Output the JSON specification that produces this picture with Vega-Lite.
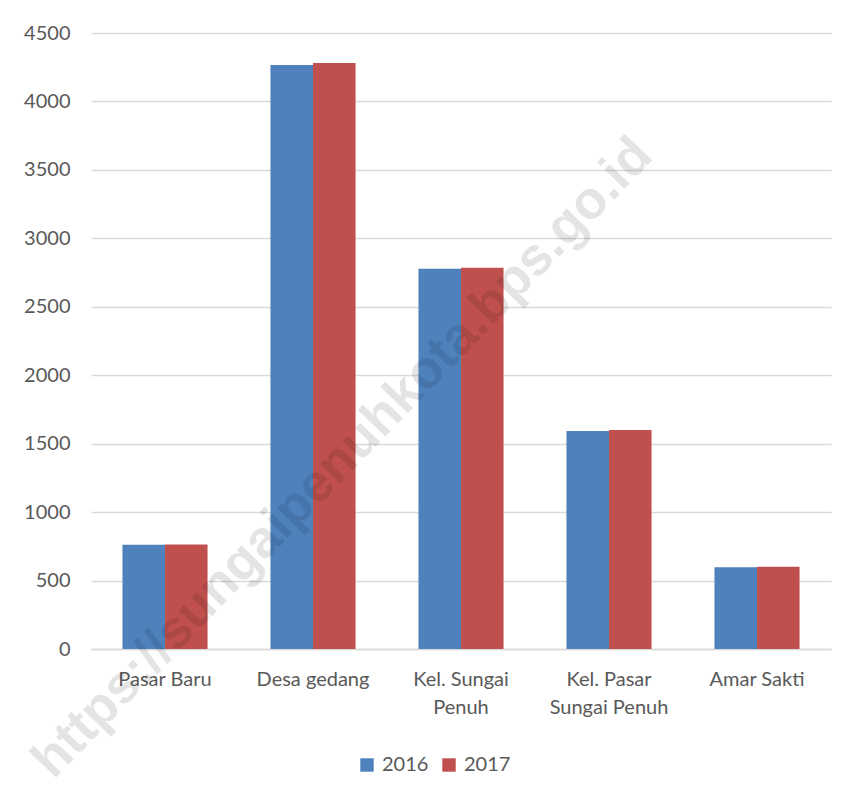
{
  "$schema": "https://vega.github.io/schema/vega-lite/v6.json",
  "width": 740,
  "height": 616,
  "autosize": {"type": "none"},
  "padding": {"left": 91, "top": 33, "right": 23, "bottom": 150},
  "background": "white",
  "config": {
    "view": {"stroke": null},
    "font": "Lato",
    "axis": {"labelColor": "#595959", "labelFont": "Lato", "labelFontSize": 20},
    "legend": {"labelColor": "#595959", "labelFont": "Lato", "labelFontSize": 20}
  },
  "layer": [
    {
      "data": {
        "values": [
          {"desa": "Pasar Baru", "tahun": "2016", "nilai": 762},
          {"desa": "Pasar Baru", "tahun": "2017", "nilai": 764},
          {"desa": "Desa gedang", "tahun": "2016", "nilai": 4266},
          {"desa": "Desa gedang", "tahun": "2017", "nilai": 4281},
          {"desa": "Kel. Sungai Penuh", "tahun": "2016", "nilai": 2777},
          {"desa": "Kel. Sungai Penuh", "tahun": "2017", "nilai": 2786},
          {"desa": "Kel. Pasar Sungai Penuh", "tahun": "2016", "nilai": 1592},
          {"desa": "Kel. Pasar Sungai Penuh", "tahun": "2017", "nilai": 1600},
          {"desa": "Amar Sakti", "tahun": "2016", "nilai": 597},
          {"desa": "Amar Sakti", "tahun": "2017", "nilai": 601}
        ]
      },
      "mark": {"type": "bar"},
      "encoding": {
        "x": {
          "field": "desa", "type": "nominal",
          "sort": ["Pasar Baru", "Desa gedang", "Kel. Sungai Penuh", "Kel. Pasar Sungai Penuh", "Amar Sakti"],
          "scale": {"paddingInner": 0.425, "paddingOuter": 0.2125},
          "axis": {
            "title": null, "labelAngle": 0, "ticks": false, "domain": true,
            "domainColor": "#d9d9d9", "domainWidth": 1.5, "labelPadding": 20,
            "labelLineHeight": 28,
            "labelExpr": "datum.label == 'Kel. Sungai Penuh' ? ['Kel. Sungai', 'Penuh'] : datum.label == 'Kel. Pasar Sungai Penuh' ? ['Kel. Pasar', 'Sungai Penuh'] : datum.label"
          }
        },
        "xOffset": {"field": "tahun", "type": "nominal"},
        "y": {
          "field": "nilai", "type": "quantitative",
          "scale": {"domain": [0, 4500], "nice": false},
          "axis": {
            "title": null, "values": [0, 500, 1000, 1500, 2000, 2500, 3000, 3500, 4000, 4500],
            "format": "d",
            "ticks": false, "domain": false, "labelPadding": 21,
            "gridColor": "#d9d9d9", "gridWidth": 1.5
          }
        },
        "color": {
          "field": "tahun", "type": "nominal",
          "scale": {"domain": ["2016", "2017"], "range": ["#4F81BD", "#C0504D"]},
          "legend": {
            "title": null, "orient": "none", "direction": "horizontal",
            "legendX": 266, "legendY": 722,
            "symbolType": "square", "symbolSize": 180, "symbolStrokeWidth": 0,
            "columnPadding": 10, "labelOffset": 5
          }
        }
      }
    },
    {
      "data": {"values": [{"wm": "https://sungaipenuhkota.bps.go.id", "desa": "Desa gedang", "y": 1382}]},
      "mark": {
        "type": "text", "angle": -46, "font": "Liberation Sans", "fontWeight": "bold",
        "fontSize": 53, "color": "#000000", "opacity": 0.1, "align": "center", "baseline": "middle", "dx": 22, "dy": 20
      },
      "encoding": {
        "x": {"field": "desa", "type": "nominal", "sort": ["Pasar Baru", "Desa gedang", "Kel. Sungai Penuh", "Kel. Pasar Sungai Penuh", "Amar Sakti"]},
        "y": {"field": "y", "type": "quantitative"},
        "text": {"field": "wm"}
      }
    }
  ]
}
